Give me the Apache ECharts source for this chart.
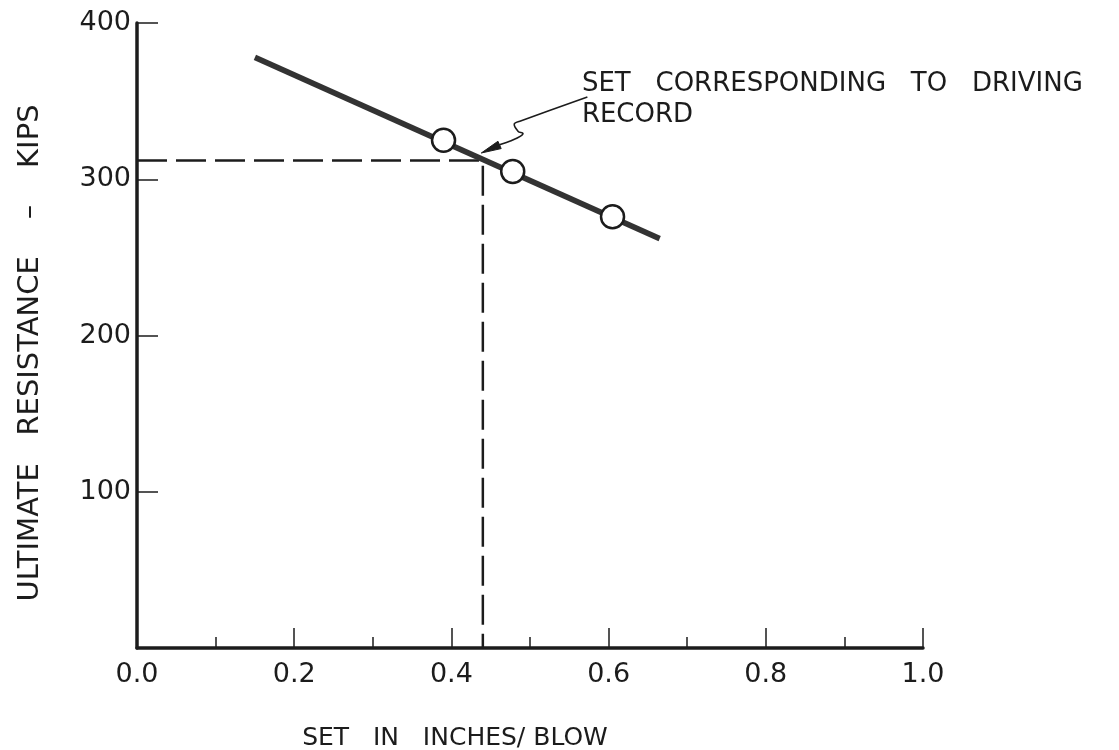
<!DOCTYPE html>
<html>
<head>
<meta charset="utf-8">
<title>Ultimate resistance vs set</title>
<script src="https://cdn.jsdelivr.net/npm/echarts@6/dist/echarts.min.js"></script>
<style>
  html, body { margin: 0; padding: 0; background: #fff; }
  #chart { width: 1119px; height: 750px; }
</style>
</head>
<body>
<div id="chart"></div>
<script>
// Resistance line computed from the wave-equation runs
const lineSet = [0.15, 0.665];
const lineRes = [378, 262];

// Individual analysis points (set in in/blow, resistance in kips)
const pointSet = [0.39, 0.478, 0.605];
const pointRes = [325, 305, 276];

const recordSet = 0.44;
const recordRes = 312;

// Axis ticks
const xTicks = [0, 0.2, 0.4, 0.6, 0.8, 1.0];
const xTickLabels = ['0.0', '0.2', '0.4', '0.6', '0.8', '1.0'];
const yTicks = [100, 200, 300, 400];

// Note text and its leader curve (in set / kips units)
const noteLines = ['SET   CORRESPONDING   TO   DRIVING', 'RECORD'];
const noteAnchor = [0.566, 371];
const leader = [[0.573, 352.6], [0.488, 337.3], [0.480, 335.4], [0.485, 330.6],
                [0.491, 329.3], [0.488, 327.6], [0.478, 325.1], [0.461, 321.9]];
const leaderTip = [0.438, 316.8];

const FONT = '"DejaVu Sans", "Liberation Sans", sans-serif';
const INK = '#1c1c1c';

const chart = echarts.init(document.getElementById('chart'), null, { renderer: 'canvas' });

chart.setOption({
  animation: false,
  backgroundColor: '#ffffff',
  grid: { left: 137, right: 196, top: 23, bottom: 102, containLabel: false },
  xAxis: {
    type: 'value', min: 0, max: 1, interval: 0.2,
    axisLine: { show: true, onZero: false, lineStyle: { color: INK, width: 3.5 } },
    axisTick: { show: true, inside: true, length: 20, lineStyle: { color: INK, width: 1.5 } },
    minorTick: { show: true, splitNumber: 2, length: 11, lineStyle: { color: INK, width: 1.5 } },
    splitLine: { show: false },
    axisLabel: {
      margin: 13, color: INK, fontFamily: FONT, fontSize: 27,
      formatter: v => {
        const i = xTicks.findIndex(t => Math.abs(t - v) < 1e-9);
        return i >= 0 ? xTickLabels[i] : '';
      }
    }
  },
  yAxis: {
    type: 'value', min: 0, max: 400, interval: 100,
    axisLine: { show: true, onZero: false, lineStyle: { color: INK, width: 3.5 } },
    axisTick: { show: true, inside: true, length: 21, lineStyle: { color: INK, width: 1.5 } },
    splitLine: { show: false },
    axisLabel: {
      margin: 6, color: INK, fontFamily: FONT, fontSize: 27,
      formatter: v => (yTicks.includes(v) ? String(v) : '')
    }
  },
  series: [
    {
      name: 'record', type: 'line', silent: true, symbol: 'none', z: 2,
      lineStyle: { color: INK, width: 2.5, type: [30, 9] },
      data: [[0, recordRes], [recordSet, recordRes], [recordSet, 0]]
    },
    {
      name: 'resistance', type: 'line', silent: true, symbol: 'none', z: 3,
      lineStyle: { color: '#333333', width: 5.5 },
      data: lineSet.map((s, i) => [s, lineRes[i]])
    },
    {
      name: 'points', type: 'scatter', silent: true, z: 4,
      symbol: 'circle', symbolSize: 23,
      itemStyle: { color: '#ffffff', borderColor: INK, borderWidth: 2.5, opacity: 1 },
      data: pointSet.map((s, i) => [s, pointRes[i]])
    }
  ]
});

// Axis titles and the driving-record note, placed from axis coordinates
const toPx = p => chart.convertToPixel({ gridIndex: 0 }, p);
const anchor = toPx(noteAnchor);
const leaderPx = leader.map(toPx);
const tip = toPx(leaderTip);
const last = leaderPx[leaderPx.length - 1];
const dx = tip[0] - last[0], dy = tip[1] - last[1];
const len = Math.hypot(dx, dy);
const ux = dx / len, uy = dy / len;
const headLen = 20, headHalf = 4;
const base = [tip[0] - ux * headLen, tip[1] - uy * headLen];
const head = [
  tip,
  [base[0] - uy * headHalf, base[1] + ux * headHalf],
  [base[0] + uy * headHalf, base[1] - ux * headHalf]
];

chart.setOption({
  graphic: [
    {
      type: 'text', x: 30, y: 353, rotation: Math.PI / 2,
      style: {
        text: 'ULTIMATE   RESISTANCE    –    KIPS', fill: INK,
        font: '29px ' + FONT, align: 'center', verticalAlign: 'middle'
      }
    },
    {
      type: 'text', x: 455, y: 738,
      style: {
        text: 'SET   IN   INCHES/ BLOW', fill: INK,
        font: '25px ' + FONT, align: 'center', verticalAlign: 'middle'
      }
    },
    {
      type: 'text', x: anchor[0], y: anchor[1],
      style: {
        text: noteLines.join('\n'), fill: INK, lineHeight: 31,
        font: '26px ' + FONT, align: 'left', verticalAlign: 'top'
      }
    },
    {
      type: 'polyline', shape: { points: leaderPx.concat([base]), smooth: 0.3 },
      style: { stroke: INK, lineWidth: 1.6, fill: null }
    },
    {
      type: 'polygon', shape: { points: head },
      style: { fill: INK, stroke: INK, lineWidth: 1 }
    }
  ]
});
</script>
</body>
</html>
